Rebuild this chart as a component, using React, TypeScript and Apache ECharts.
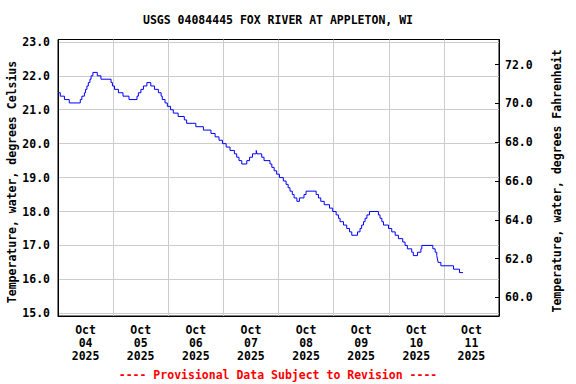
import React, { useEffect, useRef } from 'react';
import * as echarts from 'echarts';

const TITLE = 'USGS 04084445 FOX RIVER AT APPLETON, WI';
const LEFT_NAME = 'Temperature, water, degrees Celsius';
const RIGHT_NAME = 'Temperature, water, degrees Fahrenheit';
const FOOTER = '---- Provisional Data Subject to Revision ----';

const START_DATE = '2025-10-04T00:00:00Z';
const END_DATE = '2025-10-12T00:00:00Z';
const DAY_LABEL_DATES = [
  '2025-10-04T12:00:00Z', '2025-10-05T12:00:00Z', '2025-10-06T12:00:00Z', '2025-10-07T12:00:00Z',
  '2025-10-08T12:00:00Z', '2025-10-09T12:00:00Z', '2025-10-10T12:00:00Z', '2025-10-11T12:00:00Z',
];
const MONTHS = ['Jan', 'Feb', 'Mar', 'Apr', 'May', 'Jun', 'Jul', 'Aug', 'Sep', 'Oct', 'Nov', 'Dec'];

const CELSIUS_TICKS = [15, 16, 17, 18, 19, 20, 21, 22, 23];
const FAHRENHEIT_TICKS = [60, 62, 64, 66, 68, 70, 72];
const C_MIN = 14.92;
const C_MAX = 23.07;
const F_MIN = 59.04;
const F_MAX = 73.29;

// hours since Oct 04 00:00 at which the reading changes
const HOURS = [
  0, 1.0, 2.8, 4.9, 9.7, 10.4, 11.5, 12.0, 12.6, 13.2, 13.9, 14.4, 15.2, 17.1, 18.7,
  23.1, 23.7, 24.6, 26.3, 28.3, 30.9, 34.4, 35.0, 36.1, 37.2, 38.7, 40.4, 42.0, 43.7, 44.9,
  45.4, 46.6, 47.6, 49.0, 50.2, 52.3, 55.0, 56.0, 60.0, 63.3, 66.6, 68.4, 70.1, 71.6, 73.2,
  74.9, 76.8, 77.8, 78.8, 80.0, 82.2, 83.4, 84.7, 86.3, 86.6, 88.7, 89.7, 92.3, 93.1, 94.1,
  95.2, 96.4, 98.1, 99.3, 100.2, 101.0, 102.0, 102.8, 104.0, 105.1, 107.1, 108.0, 112.4, 113.4, 114.4,
  115.9, 118.2, 119.6, 121.1, 122.1, 122.8, 124.3, 125.7, 126.9, 127.9, 130.4, 131.5, 132.2, 133.0, 133.7,
  134.5, 135.6, 139.5, 140.2, 141.0, 141.7, 143.9, 145.3, 146.8, 148.2, 150.1, 151.1, 152.1, 154.0, 154.7,
  156.5, 158.0, 158.4, 163.2, 164.2, 164.9, 165.2, 165.5, 166.7, 172.2, 174.8, 176.3,
];
const TEMP_C = [
  21.5, 21.4, 21.3, 21.2, 21.3, 21.4, 21.5, 21.6, 21.7, 21.8, 21.9, 22.0, 22.1, 22.0, 21.9,
  21.8, 21.7, 21.6, 21.5, 21.4, 21.3, 21.4, 21.5, 21.6, 21.7, 21.8, 21.7, 21.6, 21.5, 21.4,
  21.3, 21.2, 21.1, 21.0, 20.9, 20.8, 20.7, 20.6, 20.5, 20.4, 20.3, 20.2, 20.1, 20.0, 19.9,
  19.8, 19.7, 19.6, 19.5, 19.4, 19.5, 19.6, 19.7, 19.8, 19.7, 19.6, 19.5, 19.4, 19.3, 19.2,
  19.1, 19.0, 18.9, 18.8, 18.7, 18.6, 18.5, 18.4, 18.3, 18.4, 18.5, 18.6, 18.5, 18.4, 18.3,
  18.2, 18.1, 18.0, 17.9, 17.8, 17.7, 17.6, 17.5, 17.4, 17.3, 17.4, 17.5, 17.6, 17.7, 17.8,
  17.9, 18.0, 17.9, 17.8, 17.7, 17.6, 17.5, 17.4, 17.3, 17.2, 17.1, 17.0, 16.9, 16.8, 16.7,
  16.8, 16.9, 17.0, 16.9, 16.8, 16.7, 16.6, 16.5, 16.4, 16.3, 16.2, 16.2,
];

const FONT = '"DejaVu Sans Mono", "Liberation Mono", monospace';
const FS = 11.5;

export default function App() {
  const ref = useRef<HTMLDivElement>(null);

  useEffect(() => {
    if (!ref.current) return;
    const chart = echarts.init(ref.current, null, { renderer: 'svg', width: 576, height: 384 });
    const start = Date.parse(START_DATE);
    const end = Date.parse(END_DATE);
    const data = HOURS.map((h, i) => [start + h * 3600000, TEMP_C[i]]);
    const labelValues = DAY_LABEL_DATES.map((d) => Date.parse(d));

    const textStyle = { fontFamily: FONT, fontSize: FS, fontWeight: 'bold' as const, color: '#000' };

    chart.setOption({
      animation: false,
      backgroundColor: '#fff',
      grid: {
        left: 58, right: 77, top: 39.5, bottom: 68,
        show: true, borderColor: '#000', borderWidth: 1, backgroundColor: 'transparent',
        containLabel: false,
      },
      xAxis: {
        type: 'value',
        min: start,
        max: end,
        interval: 86400000,
        axisLine: { show: true, lineStyle: { color: '#000', width: 1 } },
        axisTick: { show: false },
        splitLine: { show: true, lineStyle: { color: '#cccccc', width: 1 } },
        axisLabel: {
          ...textStyle,
          customValues: labelValues,
          margin: 8,
          lineHeight: 12.8,
          formatter: (v: number) => {
            const d = new Date(v);
            return `${MONTHS[d.getUTCMonth()]}\n${String(d.getUTCDate()).padStart(2, '0')}\n${d.getUTCFullYear()}`;
          },
        },
      },
      yAxis: [
        {
          type: 'value',
          position: 'left',
          min: C_MIN,
          max: C_MAX,
          axisLine: { show: true, lineStyle: { color: '#000', width: 1 } },
          axisTick: { show: false, customValues: CELSIUS_TICKS },
          splitLine: { show: true, lineStyle: { color: '#cccccc', width: 1 } },
          axisLabel: {
            ...textStyle,
            customValues: CELSIUS_TICKS,
            margin: 8,
            formatter: (v: number) => v.toFixed(1),
          },
        },
        {
          type: 'value',
          position: 'right',
          min: F_MIN,
          max: F_MAX,
          axisLine: { show: true, lineStyle: { color: '#000', width: 1 } },
          axisTick: { show: true, inside: true, length: 4, customValues: FAHRENHEIT_TICKS, lineStyle: { color: '#000' } },
          splitLine: { show: false },
          axisLabel: {
            ...textStyle,
            customValues: FAHRENHEIT_TICKS,
            margin: 6,
            formatter: (v: number) => v.toFixed(1),
          },
        },
      ],
      series: [
        {
          type: 'line',
          yAxisIndex: 0,
          data,
          step: 'end',
          showSymbol: false,
          symbol: 'none',
          lineStyle: { color: '#0000ff', width: 1 },
          silent: true,
        },
      ],
      graphic: [
        {
          type: 'text', x: 278, y: 20,
          style: { text: TITLE, fill: '#000', font: `bold ${FS}px ${FONT}`, textAlign: 'center', textVerticalAlign: 'middle' },
        },
        {
          type: 'text', x: 12, y: 182, rotation: Math.PI / 2,
          style: { text: LEFT_NAME, fill: '#000', font: `bold ${FS}px ${FONT}`, textAlign: 'center', textVerticalAlign: 'middle' },
        },
        {
          type: 'text', x: 557, y: 181, rotation: Math.PI / 2,
          style: { text: RIGHT_NAME, fill: '#000', font: `bold ${FS}px ${FONT}`, textAlign: 'center', textVerticalAlign: 'middle' },
        },
        {
          type: 'text', x: 278, y: 375,
          style: { text: FOOTER, fill: '#ff0000', font: `bold ${FS}px ${FONT}`, textAlign: 'center', textVerticalAlign: 'middle' },
        },
      ],
    });
    return () => chart.dispose();
  }, []);

  return <div ref={ref} style={{ position: 'fixed', left: 0, top: 0, width: 576, height: 384, background: '#fff' }} />;
}
